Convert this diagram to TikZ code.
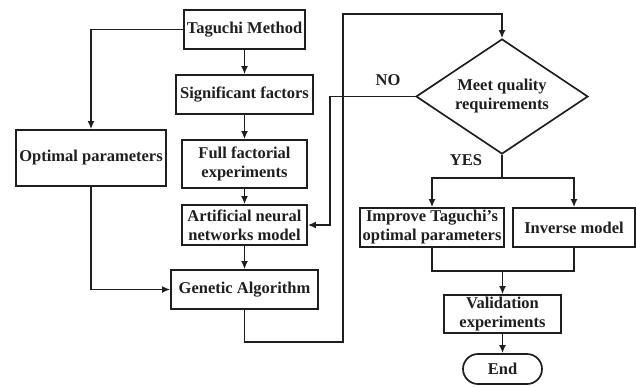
\documentclass[tikz,border=0pt]{standalone}
\usepackage{fontspec}
\setmainfont{Liberation Serif}
\usetikzlibrary{arrows.meta,shapes.geometric,shapes.misc}
\begin{document}
\begin{tikzpicture}[x=1pt,y=-1pt,
  every node/.style={font=\fontsize{16.5}{19}\selectfont\bfseries, text=black!88},
  box/.style={draw=black!88, line width=1.7pt, inner sep=0pt, align=center},
  arr/.style={draw=black!88, line width=1.7pt, -{Latex[length=8pt,width=7pt]}},
  ln/.style={draw=black!88, line width=1.7pt}]
\useasboundingbox (0,0) rectangle (636,386);
\node[box, minimum width=121pt, minimum height=39pt] (tag) at (244.5,29.5) {Taguchi Method};
\node[box, minimum width=137pt, minimum height=39pt] (sig) at (244.5,94.5) {Significant factors};
\node[box, minimum width=125pt, minimum height=48pt] (full) at (244.5,164) {Full factorial\\experiments};
\node[box, minimum width=150pt, minimum height=56pt] (opt) at (91,158) {Optimal parameters};
\node[box, minimum width=125pt, minimum height=40pt] (ann) at (244.5,225) {Artificial neural\\networks model};
\node[box, minimum width=147pt, minimum height=39pt] (ga) at (244.5,289.5) {Genetic Algorithm};
\node[box, diamond, aspect=1.5, minimum width=172pt, minimum height=115pt] (dia) at (502,96.5) {Meet quality\\requirements};
\node[box, minimum width=144pt, minimum height=39pt] (imp) at (432,227.5) {Improve Taguchi's\\optimal parameters};
\node[box, minimum width=122pt, minimum height=39pt] (inv) at (574,227.5) {Inverse model};
\node[box, minimum width=117pt, minimum height=38pt] (val) at (502.5,314) {Validation\\experiments};
\node[box, rounded rectangle, minimum width=79pt, minimum height=30pt] (end) at (502.5,369) {End};
\node (no) at (388,80) {NO};
\node (yes) at (466,160) {YES};
\coordinate (c1) at (343,342);
\coordinate (c2) at (343,14);
\coordinate (c3) at (330,96.5);
\coordinate (j1) at (502,178);
\coordinate (j2) at (502.5,271);
\draw[arr] (tag) -- (sig);
\draw[arr] (sig) -- (full);
\draw[arr] (full) -- (ann);
\draw[arr] (ann) -- (ga);
\draw[arr] (tag.west) -| (opt.north);
\draw[arr] (opt.south) |- (ga.west);
\draw[arr] (ga.south) |- (c1) -- (c2) -| (dia.north);
\draw[arr] (dia.west) -- (c3) |- (ann.east);
\draw[ln] (dia.south) -- (j1);
\draw[arr] (j1) -| (imp.north);
\draw[arr] (j1) -| (inv.north);
\draw[ln] (imp.south) |- (j2) -| (inv.south);
\draw[arr] (j2) -- (val.north);
\draw[arr] (val) -- (end);
\end{tikzpicture}
\end{document}
